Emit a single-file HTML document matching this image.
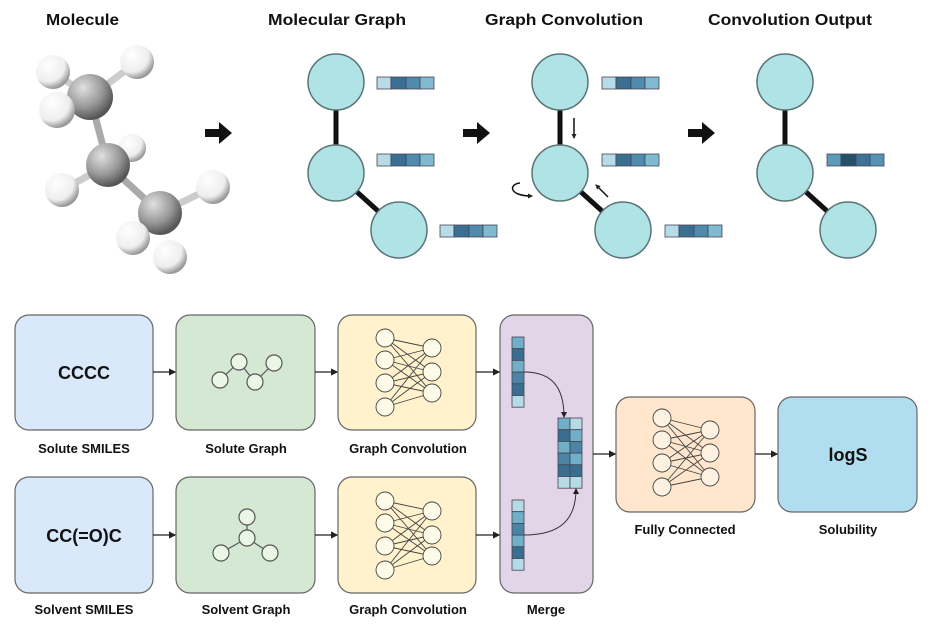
<!DOCTYPE html>
<html><head><meta charset="utf-8"><style>body{margin:0;background:#fff}svg{display:block}text{font-family:"Liberation Sans",sans-serif;font-weight:bold;fill:#111}</style></head><body>
<svg width="931" height="629" viewBox="0 0 931 629" xmlns="http://www.w3.org/2000/svg">
<defs>
<radialGradient id="gC" cx="35%" cy="30%" r="70%"><stop offset="0" stop-color="#e0e0e0"/><stop offset="0.6" stop-color="#999"/><stop offset="1" stop-color="#555"/></radialGradient>
<radialGradient id="gH" cx="35%" cy="30%" r="70%"><stop offset="0" stop-color="#fff"/><stop offset="0.7" stop-color="#eee"/><stop offset="1" stop-color="#999"/></radialGradient>
<marker id="ah" markerWidth="6" markerHeight="6" refX="5" refY="3" orient="auto"><path d="M0,0 L6,3 L0,6 z" fill="#222"/></marker>
<marker id="ah2" markerWidth="5" markerHeight="5" refX="4" refY="2.5" orient="auto" markerUnits="userSpaceOnUse"><path d="M0,0 L5,2.5 L0,5 z" fill="#222"/></marker>
<g id="fb" stroke="#445" stroke-width="0.8">
<rect x="0" y="0" width="14" height="12" fill="#b8dbe8"/><rect x="14" y="0" width="15" height="12" fill="#3b6f92"/><rect x="29" y="0" width="14" height="12" fill="#4e8bad"/><rect x="43" y="0" width="14" height="12" fill="#7fbad0"/>
</g>
</defs>
<g font-size="16">
<text x="46" y="25" textLength="73" lengthAdjust="spacingAndGlyphs">Molecule</text>
<text x="268" y="25" textLength="138" lengthAdjust="spacingAndGlyphs">Molecular Graph</text>
<text x="485" y="25" textLength="158" lengthAdjust="spacingAndGlyphs">Graph Convolution</text>
<text x="708" y="25" textLength="164" lengthAdjust="spacingAndGlyphs">Convolution Output</text>
</g>
<!-- molecule -->
<g stroke="#ccc" stroke-width="7">
<line x1="53" y1="72" x2="90" y2="97"/><line x1="137" y1="62" x2="90" y2="97"/>
<line x1="132" y1="148" x2="108" y2="165"/><line x1="62" y1="190" x2="108" y2="165"/>
<line x1="213" y1="187" x2="160" y2="213"/>
</g>
<g stroke="#aaa" stroke-width="7">
<line x1="90" y1="97" x2="108" y2="165"/><line x1="108" y1="165" x2="160" y2="213"/>
</g>
<circle cx="53" cy="72" r="17" fill="url(#gH)"/><circle cx="137" cy="62" r="17" fill="url(#gH)"/>
<circle cx="132" cy="148" r="14" fill="url(#gH)"/>
<circle cx="90" cy="97" r="23" fill="url(#gC)"/>
<circle cx="57" cy="110" r="18" fill="url(#gH)"/>
<circle cx="108" cy="165" r="22" fill="url(#gC)"/>
<circle cx="62" cy="190" r="17" fill="url(#gH)"/><circle cx="213" cy="187" r="17" fill="url(#gH)"/>
<circle cx="160" cy="213" r="22" fill="url(#gC)"/>
<circle cx="133" cy="238" r="17" fill="url(#gH)"/><circle cx="170" cy="257" r="17" fill="url(#gH)"/>
<!-- big arrows -->
<g fill="#111">
<path d="M205,129 h14 v-7 l13,11 l-13,11 v-7 h-14 z"/>
<path d="M463,129 h14 v-7 l13,11 l-13,11 v-7 h-14 z"/>
<path d="M688,129 h14 v-7 l13,11 l-13,11 v-7 h-14 z"/>
</g>
<!-- graphs -->
<g id="gr">
<line x1="336" y1="82" x2="336" y2="173" stroke="#111" stroke-width="5"/>
<line x1="336" y1="173" x2="399" y2="230" stroke="#111" stroke-width="5"/>
<g fill="#b0e3e6" stroke="#5b7476" stroke-width="1.5">
<circle cx="336" cy="82" r="28"/><circle cx="336" cy="173" r="28"/><circle cx="399" cy="230" r="28"/>
</g>
</g>
<use href="#gr" x="224"/>
<use href="#gr" x="449"/>
<use href="#fb" x="377" y="77"/><use href="#fb" x="377" y="154"/><use href="#fb" x="440" y="225"/>
<use href="#fb" x="602" y="77"/><use href="#fb" x="602" y="154"/><use href="#fb" x="665" y="225"/>
<g stroke="#445" stroke-width="0.8">
<rect x="827" y="154" width="14" height="12" fill="#5d9bbb"/><rect x="841" y="154" width="15" height="12" fill="#27506b"/><rect x="856" y="154" width="14" height="12" fill="#3e7397"/><rect x="870" y="154" width="14" height="12" fill="#5892b3"/>
</g>
<!-- small arrows -->
<g stroke="#111" stroke-width="1.5" fill="none" marker-end="url(#ah2)">
<line x1="574" y1="118" x2="574" y2="138"/>
<line x1="608" y1="197" x2="596" y2="185"/>
<path d="M520,183 C509,184 508,196 532,196"/>
</g>
<!-- bottom boxes -->
<g stroke="#666" stroke-width="1.2">
<rect x="15" y="315" width="138" height="115" rx="14" fill="#dae8fc"/>
<rect x="15" y="477" width="138" height="116" rx="14" fill="#dae8fc"/>
<rect x="176" y="315" width="139" height="115" rx="14" fill="#d5e8d4"/>
<rect x="176" y="477" width="139" height="116" rx="14" fill="#d5e8d4"/>
<rect x="338" y="315" width="138" height="115" rx="14" fill="#fff2cc"/>
<rect x="338" y="477" width="138" height="116" rx="14" fill="#fff2cc"/>
<rect x="500" y="315" width="93" height="278" rx="14" fill="#e1d5e7"/>
<rect x="616" y="397" width="139" height="115" rx="14" fill="#ffe6cc"/>
<rect x="778" y="397" width="139" height="115" rx="14" fill="#b1ddf0"/>
</g>
<g font-size="13" text-anchor="middle">
<text x="84" y="453">Solute SMILES</text>
<text x="84" y="614">Solvent SMILES</text>
<text x="246" y="453">Solute Graph</text>
<text x="246" y="614">Solvent Graph</text>
<text x="408" y="453">Graph Convolution</text>
<text x="408" y="614">Graph Convolution</text>
<text x="546" y="614">Merge</text>
<text x="685" y="534">Fully Connected</text>
<text x="848" y="534">Solubility</text>
</g>
<g font-size="18" text-anchor="middle">
<text x="84" y="379">CCCC</text>
<text x="84" y="542">CC(=O)C</text>
<text x="848" y="461">logS</text>
</g>
<!-- arrows between -->
<g stroke="#222" stroke-width="1.2" marker-end="url(#ah)">
<line x1="153" y1="372" x2="175" y2="372"/><line x1="153" y1="535" x2="175" y2="535"/>
<line x1="315" y1="372" x2="337" y2="372"/><line x1="315" y1="535" x2="337" y2="535"/>
<line x1="476" y1="372" x2="499" y2="372"/><line x1="476" y1="535" x2="499" y2="535"/>
<line x1="593" y1="454" x2="615" y2="454"/><line x1="755" y1="454" x2="777" y2="454"/>
</g>
<!-- small graphs -->
<g stroke="#555" stroke-width="1.2" fill="#eaf7e6">
<line x1="220" y1="380" x2="239" y2="362"/><line x1="239" y1="362" x2="255" y2="382"/><line x1="255" y1="382" x2="274" y2="363"/>
<circle cx="220" cy="380" r="8"/><circle cx="239" cy="362" r="8"/><circle cx="255" cy="382" r="8"/><circle cx="274" cy="363" r="8"/>
<line x1="247" y1="538" x2="247" y2="517"/><line x1="247" y1="538" x2="221" y2="553"/><line x1="247" y1="538" x2="270" y2="553"/>
<circle cx="247" cy="538" r="8"/><circle cx="247" cy="517" r="8"/><circle cx="221" cy="553" r="8"/><circle cx="270" cy="553" r="8"/>
</g>
<!-- NNs -->
<g id="nn" stroke="#444" stroke-width="0.9">
<g>
<line x1="385" y1="338" x2="432" y2="348"/><line x1="385" y1="338" x2="432" y2="372"/><line x1="385" y1="338" x2="432" y2="393"/>
<line x1="385" y1="360" x2="432" y2="348"/><line x1="385" y1="360" x2="432" y2="372"/><line x1="385" y1="360" x2="432" y2="393"/>
<line x1="385" y1="383" x2="432" y2="348"/><line x1="385" y1="383" x2="432" y2="372"/><line x1="385" y1="383" x2="432" y2="393"/>
<line x1="385" y1="407" x2="432" y2="348"/><line x1="385" y1="407" x2="432" y2="372"/><line x1="385" y1="407" x2="432" y2="393"/>
</g>
<g fill="#fdfbe8">
<circle cx="385" cy="338" r="9"/><circle cx="385" cy="360" r="9"/><circle cx="385" cy="383" r="9"/><circle cx="385" cy="407" r="9"/>
<circle cx="432" cy="348" r="9"/><circle cx="432" cy="372" r="9"/><circle cx="432" cy="393" r="9"/>
</g>
</g>
<use href="#nn" y="163"/>
<g stroke="#444" stroke-width="0.9">
<line x1="662" y1="418" x2="710" y2="430"/><line x1="662" y1="418" x2="710" y2="453"/><line x1="662" y1="418" x2="710" y2="477"/>
<line x1="662" y1="440" x2="710" y2="430"/><line x1="662" y1="440" x2="710" y2="453"/><line x1="662" y1="440" x2="710" y2="477"/>
<line x1="662" y1="463" x2="710" y2="430"/><line x1="662" y1="463" x2="710" y2="453"/><line x1="662" y1="463" x2="710" y2="477"/>
<line x1="662" y1="487" x2="710" y2="430"/><line x1="662" y1="487" x2="710" y2="453"/><line x1="662" y1="487" x2="710" y2="477"/>
<g fill="#fdf1e2">
<circle cx="662" cy="418" r="9"/><circle cx="662" cy="440" r="9"/><circle cx="662" cy="463" r="9"/><circle cx="662" cy="487" r="9"/>
<circle cx="710" cy="430" r="9"/><circle cx="710" cy="453" r="9"/><circle cx="710" cy="477" r="9"/>
</g>
</g>
<!-- merge vectors -->
<g stroke="#445" stroke-width="0.8">
<rect x="512" y="337" width="12" height="11.7" fill="#6fb0c6"/><rect x="512" y="348.7" width="12" height="11.7" fill="#3a6e90"/><rect x="512" y="360.4" width="12" height="11.7" fill="#6fb0c6"/><rect x="512" y="372.1" width="12" height="11.7" fill="#4a85a8"/><rect x="512" y="383.8" width="12" height="11.7" fill="#3a6e90"/><rect x="512" y="395.5" width="12" height="11.7" fill="#b5dbe6"/>
<rect x="512" y="500" width="12" height="11.7" fill="#b5dbe6"/><rect x="512" y="511.7" width="12" height="11.7" fill="#6fb0c6"/><rect x="512" y="523.4" width="12" height="11.7" fill="#4a85a8"/><rect x="512" y="535.1" width="12" height="11.7" fill="#6fb0c6"/><rect x="512" y="546.8" width="12" height="11.7" fill="#3a6e90"/><rect x="512" y="558.5" width="12" height="11.7" fill="#b5dbe6"/>
<rect x="558" y="418" width="12" height="11.7" fill="#6fb0c6"/><rect x="558" y="429.7" width="12" height="11.7" fill="#3a6e90"/><rect x="558" y="441.4" width="12" height="11.7" fill="#6fb0c6"/><rect x="558" y="453.1" width="12" height="11.7" fill="#4a85a8"/><rect x="558" y="464.8" width="12" height="11.7" fill="#3a6e90"/><rect x="558" y="476.5" width="12" height="11.7" fill="#b5dbe6"/>
<rect x="570" y="418" width="12" height="11.7" fill="#b5dbe6"/><rect x="570" y="429.7" width="12" height="11.7" fill="#6fb0c6"/><rect x="570" y="441.4" width="12" height="11.7" fill="#4a85a8"/><rect x="570" y="453.1" width="12" height="11.7" fill="#6fb0c6"/><rect x="570" y="464.8" width="12" height="11.7" fill="#3a6e90"/><rect x="570" y="476.5" width="12" height="11.7" fill="#b5dbe6"/>
</g>
<g stroke="#333" stroke-width="1" fill="none" marker-end="url(#ah)">
<path d="M524,372 C550,372 564,385 564,417"/>
<path d="M524,535 C560,535 576,520 576,489"/>
</g>
</svg>
</body></html>
